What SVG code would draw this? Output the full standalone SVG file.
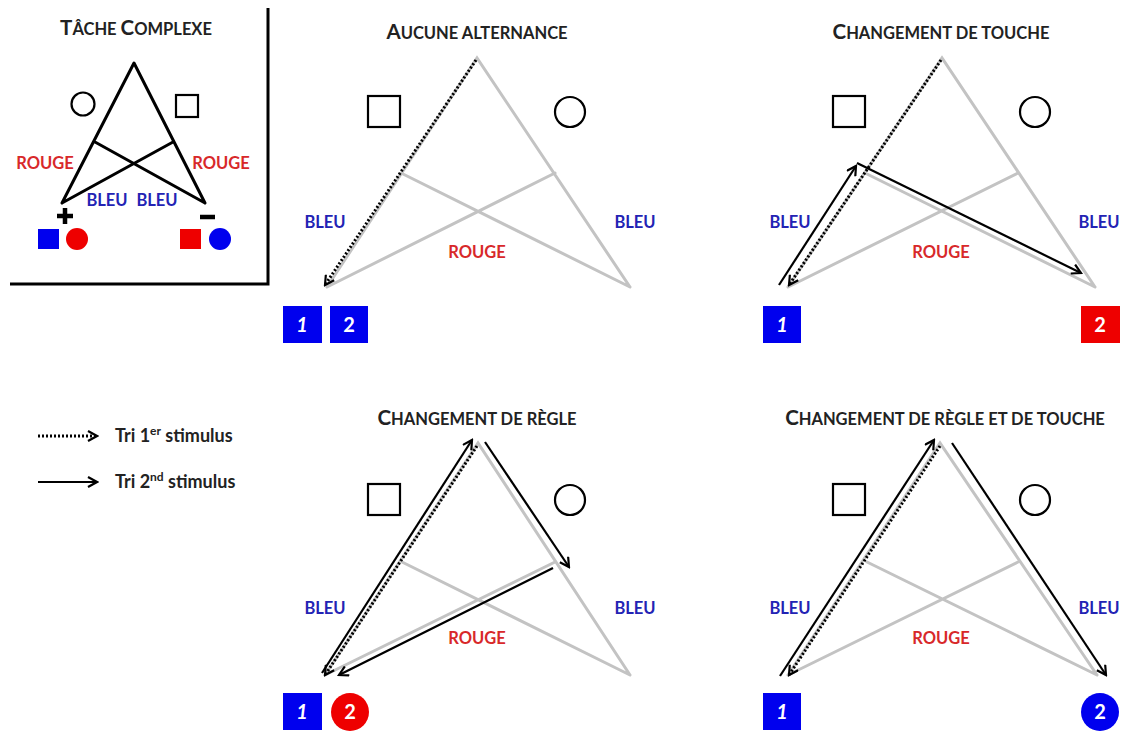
<svg xmlns="http://www.w3.org/2000/svg" width="1126" height="731" viewBox="0 0 1126 731">
<defs>
<style>
.t{font-family:Lato,"Open Sans","Liberation Sans",sans-serif;font-weight:bold;fill:#222;text-anchor:middle}
.bl{font-family:Lato,"Open Sans","Liberation Sans",sans-serif;font-weight:bold;font-size:16.5px;fill:#2323b4;text-anchor:middle}
.rg{font-family:Lato,"Open Sans","Liberation Sans",sans-serif;font-weight:bold;font-size:16.5px;fill:#d8282a;text-anchor:middle}
.num{font-family:Lato,"Open Sans","Liberation Sans",sans-serif;font-weight:bold;font-size:20px;fill:#fff;text-anchor:middle}
.leg{font-family:Lato,"Open Sans","Liberation Sans",sans-serif;font-weight:bold;font-size:18px;fill:#222}
.g{stroke:#c3c3c3;stroke-width:3;fill:none;stroke-linecap:round}
.k{stroke:#000;stroke-width:3;fill:none;stroke-linecap:round;stroke-linejoin:round}
.s{stroke:#000;stroke-width:2.2;fill:none}
.d{stroke:#000;stroke-width:3;fill:none;stroke-dasharray:2 2}
.a{stroke:#000;stroke-width:2.2;fill:none}
</style>
<marker id="ah" viewBox="0 0 12 12" refX="10" refY="6" markerWidth="12" markerHeight="12" markerUnits="userSpaceOnUse" orient="auto">
<path d="M1,1 L10,6 L1,11" fill="none" stroke="#000" stroke-width="2.2"/>
</marker>
</defs>
<rect width="1126" height="731" fill="#fff"/>

<g id="complex-task">
<path d="M268,8 L268,284 L10,284" fill="none" stroke="#000" stroke-width="3"/>
<text class="t" x="136" y="35" font-size="16.5"><tspan font-size="20.5">T</tspan>ÂCHE <tspan font-size="20.5">C</tspan>OMPLEXE</text>
<path class="k" d="M62,203 L134,63 L205,203 M95,142 L205,203 M173,142 L62,203"/>
<circle cx="83" cy="104" r="11.5" class="s"/>
<rect x="176" y="95" width="22" height="22" class="s"/>
<text class="rg" x="45" y="169">ROUGE</text>
<text class="rg" x="221" y="169">ROUGE</text>
<text class="bl" x="107" y="206">BLEU</text>
<text class="bl" x="157" y="206">BLEU</text>
<path d="M57,216 H73 M65,208 V224 M200,217 H215" stroke="#000" stroke-width="4.5"/>
<rect x="38" y="229" width="21" height="20" fill="#0000ee"/>
<circle cx="77" cy="239" r="11" fill="#ee0000"/>
<rect x="180" y="229" width="21" height="20" fill="#ee0000"/>
<circle cx="220" cy="239" r="11" fill="#0000ee"/>
</g>

<g id="panel-aucune">
<text class="t" x="477" y="39" font-size="16.5"><tspan font-size="20.5">A</tspan>UCUNE ALTERNANCE</text>
<path class="g" d="M327,287 L477,58 L630,287 M401,173 L630,287 M555,173 L327,287"/>
<rect x="368" y="96" width="32" height="31" class="s"/>
<circle cx="570" cy="112" r="15" class="s"/>
<text class="bl" x="325" y="228">BLEU</text>
<text class="bl" x="635" y="228">BLEU</text>
<text class="rg" x="477" y="258">ROUGE</text>
<rect x="283" y="306" width="39" height="37" fill="#0000ee"/>
<text class="num" x="302" y="332" font-style="italic">1</text>
<rect x="330" y="306" width="38" height="37" fill="#0000ee"/>
<text class="num" x="349" y="332">2</text>
</g>

<g id="panel-touche">
<text class="t" x="941" y="39" font-size="16.5"><tspan font-size="20.5">C</tspan>HANGEMENT DE TOUCHE</text>
<path class="g" d="M788,287 L942,58 L1095,287 M865,173 L1095,287 M1018,173 L788,287"/>
<rect x="833" y="96" width="32" height="31" class="s"/>
<circle cx="1035" cy="112" r="15" class="s"/>
<text class="bl" x="790" y="228">BLEU</text>
<text class="bl" x="1099" y="228">BLEU</text>
<text class="rg" x="941" y="258">ROUGE</text>
<rect x="763" y="306" width="38" height="37" fill="#0000ee"/>
<text class="num" x="782" y="332" font-style="italic">1</text>
<rect x="1081" y="306" width="39" height="37" fill="#ee0000"/>
<text class="num" x="1100" y="332">2</text>
</g>

<g id="panel-regle">
<text class="t" x="477" y="425" font-size="16.5"><tspan font-size="20.5">C</tspan>HANGEMENT DE RÈGLE</text>
<path class="g" d="M325,675 L478,443 L630,675 M402,562 L630,675 M555,562 L325,675"/>
<rect x="368" y="484" width="32" height="31" class="s"/>
<circle cx="570" cy="500" r="15" class="s"/>
<text class="bl" x="325" y="614">BLEU</text>
<text class="bl" x="635" y="614">BLEU</text>
<text class="rg" x="477" y="644">ROUGE</text>
<rect x="283" y="693" width="39" height="37" fill="#0000ee"/>
<text class="num" x="302" y="719" font-style="italic">1</text>
<circle cx="350" cy="712" r="19" fill="#ee0000"/>
<text class="num" x="350" y="719">2</text>
</g>

<g id="panel-regle-touche">
<text class="t" x="945" y="425" font-size="16.5"><tspan font-size="20.5">C</tspan>HANGEMENT DE RÈGLE ET DE TOUCHE</text>
<path class="g" d="M788,675 L940,443 L1097,675 M867,562 L1097,675 M1018,562 L788,675"/>
<rect x="833" y="484" width="32" height="31" class="s"/>
<circle cx="1035" cy="500" r="15" class="s"/>
<text class="bl" x="790" y="614">BLEU</text>
<text class="bl" x="1099" y="614">BLEU</text>
<text class="rg" x="941" y="644">ROUGE</text>
<rect x="763" y="693" width="38" height="37" fill="#0000ee"/>
<text class="num" x="782" y="719" font-style="italic">1</text>
<circle cx="1100" cy="712" r="19" fill="#0000ee"/>
<text class="num" x="1100" y="719">2</text>
</g>

<g id="legend">
<text class="leg" x="115" y="442">Tri 1<tspan font-size="12" dy="-7">er</tspan><tspan dy="7"> stimulus</tspan></text>
<text class="leg" x="115" y="488">Tri 2<tspan font-size="12" dy="-7">nd</tspan><tspan dy="7"> stimulus</tspan></text>
</g>

<g id="connectors">
<line class="d" x1="38" y1="436" x2="97" y2="436" marker-end="url(#ah)"/>
<line class="a" x1="38" y1="482" x2="97" y2="482" marker-end="url(#ah)"/>

<line class="d" x1="476" y1="60" x2="325" y2="285" marker-end="url(#ah)"/>

<line class="d" x1="941" y1="60" x2="789" y2="285" marker-end="url(#ah)"/>
<line class="a" x1="779" y1="285" x2="856" y2="166" marker-end="url(#ah)"/>
<line class="a" x1="857" y1="163" x2="1081" y2="273" marker-end="url(#ah)"/>

<line class="d" x1="477" y1="446" x2="325" y2="675" marker-end="url(#ah)"/>
<line class="a" x1="322" y1="673" x2="472" y2="440" marker-end="url(#ah)"/>
<line class="a" x1="485" y1="442" x2="569" y2="567" marker-end="url(#ah)"/>
<line class="a" x1="553" y1="568" x2="339" y2="675" marker-end="url(#ah)"/>

<line class="d" x1="940" y1="446" x2="789" y2="675" marker-end="url(#ah)"/>
<line class="a" x1="780" y1="676" x2="934" y2="440" marker-end="url(#ah)"/>
<line class="a" x1="952" y1="443" x2="1106" y2="675" marker-end="url(#ah)"/>
</g>
</svg>
